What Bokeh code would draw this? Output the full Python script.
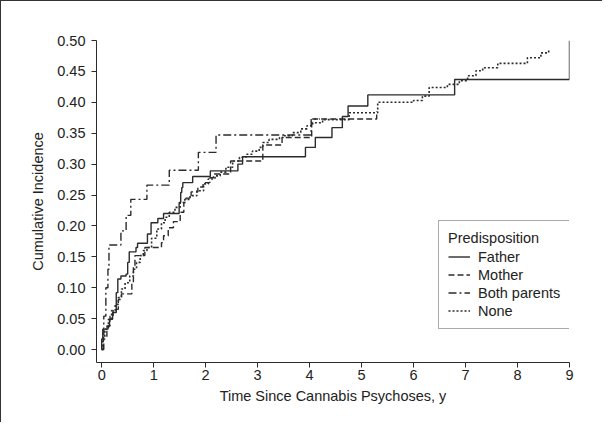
from bokeh.plotting import figure
from bokeh.models import Range1d, FixedTicker, Legend, LegendItem, NumeralTickFormatter
from bokeh.embed import file_html
from bokeh.resources import INLINE

# ---- data ----
father_t = [0.00, 0.00, 0.02, 0.12, 0.15, 0.21, 0.28, 0.31, 0.37, 0.47, 0.50, 0.53, 0.66, 0.69,
            0.88, 0.95, 1.08, 1.19, 1.49, 1.52, 1.54, 1.56, 1.75, 2.09, 2.62, 2.71, 3.92, 4.11,
            4.43, 4.63, 4.74, 5.12, 6.79, 9.00]
father_v = [0.000, 0.017, 0.033, 0.038, 0.049, 0.060, 0.092, 0.114, 0.119, 0.122, 0.141, 0.158,
            0.165, 0.172, 0.187, 0.205, 0.212, 0.220, 0.238, 0.254, 0.262, 0.270, 0.280, 0.289,
            0.300, 0.312, 0.327, 0.343, 0.359, 0.377, 0.394, 0.412, 0.437, 0.500]

mother_t = [0.00, 0.03, 0.10, 0.16, 0.22, 0.32, 0.38, 0.58, 0.61, 0.64, 0.83, 1.15, 1.19, 1.28,
            1.38, 1.51, 1.58, 1.62, 1.72, 1.85, 1.95, 2.08, 2.15, 2.48, 3.10, 3.47, 4.04, 5.29]
mother_v = [0.000, 0.020, 0.038, 0.054, 0.065, 0.081, 0.090, 0.108, 0.135, 0.152, 0.165, 0.173,
            0.184, 0.197, 0.207, 0.222, 0.238, 0.245, 0.255, 0.263, 0.270, 0.278, 0.284, 0.305,
            0.331, 0.343, 0.373, 0.386]

both_t = [0.00, 0.04, 0.08, 0.12, 0.14, 0.37, 0.47, 0.56, 0.87, 1.30, 1.86, 2.20, 4.03, 4.20]
both_v = [0.000, 0.054, 0.100, 0.130, 0.169, 0.192, 0.217, 0.243, 0.266, 0.290, 0.319, 0.347,
          0.373, 0.373]

none_t = [0.00, 0.02, 0.06, 0.13, 0.19, 0.26, 0.32, 0.38, 0.45, 0.54, 0.61, 0.67, 0.74, 0.80,
          0.87, 0.96, 1.06, 1.15, 1.22, 1.30, 1.41, 1.51, 1.60, 1.70, 1.83, 1.96, 2.05, 2.18,
          2.28, 2.39, 2.52, 2.65, 2.78, 2.90, 3.03, 3.10, 3.22, 3.42, 3.51, 3.67, 3.83, 3.95,
          4.06, 4.25, 4.76, 5.31, 6.00, 6.17, 6.30, 6.65, 6.88, 7.04, 7.20, 7.33, 7.62, 8.19,
          8.45, 8.60]
none_v = [0.000, 0.017, 0.033, 0.049, 0.063, 0.073, 0.084, 0.098, 0.108, 0.119, 0.130, 0.141,
          0.152, 0.160, 0.165, 0.180, 0.195, 0.205, 0.214, 0.222, 0.230, 0.238, 0.243, 0.249,
          0.257, 0.268, 0.276, 0.281, 0.287, 0.295, 0.305, 0.311, 0.316, 0.321, 0.327, 0.335,
          0.340, 0.343, 0.346, 0.351, 0.357, 0.362, 0.367, 0.372, 0.383, 0.400, 0.403, 0.410,
          0.424, 0.429, 0.435, 0.443, 0.451, 0.456, 0.463, 0.472, 0.480, 0.486]

x_ticks = [0, 1, 2, 3, 4, 5, 6, 7, 8, 9]
y_ticks = [0.00, 0.05, 0.10, 0.15, 0.20, 0.25, 0.30, 0.35, 0.40, 0.45, 0.50]
series_names = ["Father", "Mother", "Both parents", "None"]

FONT = "Liberation Sans"
FS = "14.5px"
INK = "#2b2b2b"

p = figure(width=602, height=422, x_range=Range1d(-0.1, 9.0), y_range=Range1d(-0.021, 0.5),
           output_backend="svg", toolbar_location=None,
           min_border_left=95, min_border_right=34, min_border_top=39, min_border_bottom=61)
p.styles = {"border-left": "1px solid #333333", "border-top": "1px solid #333333"}
p.outline_line_color = None
p.xgrid.visible = False
p.ygrid.visible = False
p.background_fill_color = "white"
p.border_fill_color = "white"

r_f = p.step(father_t, father_v, mode="after", line_color=INK, line_width=1.4)
r_m = p.step(mother_t, mother_v, mode="after", line_color=INK, line_width=1.4, line_dash="6 3")
r_b = p.step(both_t, both_v, mode="after", line_color=INK, line_width=1.4, line_dash="8 3 2 3")
r_n = p.step(none_t, none_v, mode="after", line_color=INK, line_width=1.6, line_dash="2 2")

for ax in (p.xaxis[0], p.yaxis[0]):
    ax.axis_line_color = INK
    ax.major_tick_line_color = INK
    ax.major_tick_out = 5
    ax.major_tick_in = 0
    ax.minor_tick_line_color = None
    ax.major_label_text_font = FONT
    ax.major_label_text_font_size = FS
    ax.major_label_text_color = "#222222"
    ax.axis_label_text_font = FONT
    ax.axis_label_text_font_size = FS
    ax.axis_label_text_font_style = "normal"
    ax.axis_label_text_color = "#222222"

p.xaxis.ticker = FixedTicker(ticks=x_ticks)
p.yaxis.ticker = FixedTicker(ticks=y_ticks)
p.yaxis.formatter = NumeralTickFormatter(format="0.00")
p.xaxis.major_label_standoff = 2
p.yaxis.major_label_standoff = 6
p.xaxis.axis_label = "Time Since Cannabis Psychoses, y"
p.yaxis.axis_label = "Cumulative Incidence"
p.xaxis.axis_label_standoff = 5
p.yaxis.axis_label_standoff = 8

legend = Legend(items=[LegendItem(label=n, renderers=[r]) for n, r in
                       zip(series_names, [r_f, r_m, r_b, r_n])],
                location=(342, 33), title="Predisposition")
legend.title_text_font = FONT
legend.title_text_font_size = FS
legend.title_text_font_style = "normal"
legend.title_text_color = "#222222"
legend.title_standoff = 2
legend.label_text_font = FONT
legend.label_text_font_size = FS
legend.label_text_color = "#222222"
legend.label_height = 17
legend.glyph_height = 17
legend.glyph_width = 22
legend.label_standoff = 8
legend.spacing = 1
legend.padding = 9
legend.margin = 0
legend.border_line_color = "#555555"
legend.border_line_width = 1
legend.background_fill_color = "white"
legend.background_fill_alpha = 1
p.add_layout(legend, "center")

open("out.html", "w").write(file_html(p, INLINE))
